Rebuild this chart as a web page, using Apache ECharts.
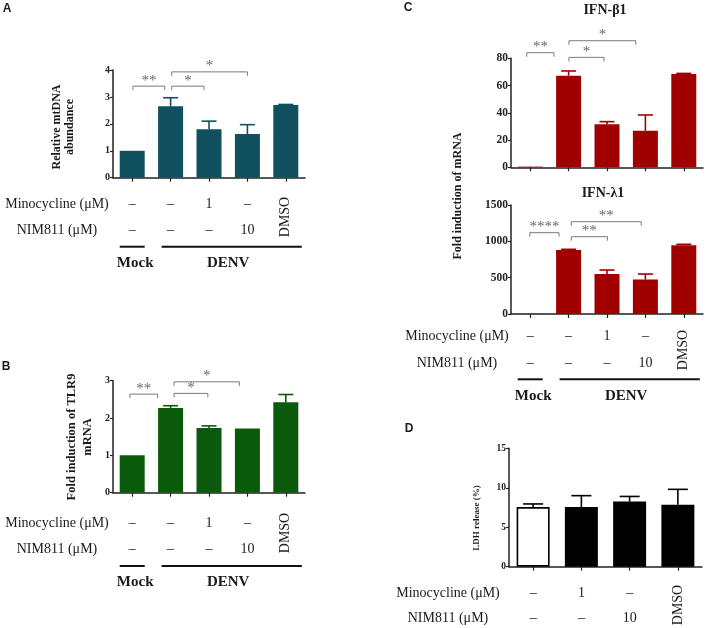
<!DOCTYPE html>
<html><head><meta charset="utf-8">
<script src="https://cdn.jsdelivr.net/npm/echarts@6/dist/echarts.min.js"></script>
<style>html,body{margin:0;padding:0;background:#fff}#c{width:709px;height:628px}</style>
</head><body><div id="c"></div>
<script>
// ---------- data ----------
const categories = ['Mock', 'DENV', 'DENV + Minocycline 1 μM', 'DENV + NIM811 10 μM', 'DENV + DMSO'];
const categoriesD = ['Control', 'Minocycline 1 μM', 'NIM811 10 μM', 'DMSO'];

const mtDNA      = [1, 2.65, 1.8, 1.62, 2.7];
const mtDNAUpper = [null, 2.97, 2.1, 1.97, 2.72];

const tlr9       = [1, 2.27, 1.73, 1.72, 2.42];
const tlr9Upper  = [null, 2.33, 1.79, null, 2.63];

const ifnb1      = [0.5, 67.2, 31.6, 26.8, 68.4];
const ifnb1Upper = [null, 70.7, 33.5, 38.4, 68.9];

const ifnl1      = [2, 881, 552, 475, 946];
const ifnl1Upper = [null, 890, 605, 550, 959];

const ldh        = [7.55, 7.55, 8.25, 7.85];
const ldhUpper   = [7.95, 9.0, 8.9, 9.8];

// significance brackets: [from (category units), to, y value, label]
const sigA  = [[0.02, 0.85, 3.4, '**'], [1.03, 1.87, 3.4, '*'], [1.03, 3.0, 3.93, '*']];
const sigB  = [[-0.06, 0.66, 2.64, '**'], [1.09, 1.97, 2.66, '*'], [1.09, 2.79, 2.97, '*']];
const sigC1 = [[-0.09, 0.62, 84.1, '**'], [1.01, 1.92, 80.7, '*'], [1.01, 2.75, 92.9, '*']];
const sigC2 = [[-0.01, 0.75, 1119, '****'], [1.07, 2.01, 1064, '**'], [1.07, 2.89, 1270, '**']];

// treatment rows
const minoRow  = ['–', '–', '1', '–'];
const nimRow   = ['–', '–', '–', '10'];
const minoRowD = ['–', '1', '–'];
const nimRowD  = ['–', '–', '10'];
const minoLabel = 'Minocycline (μM)';
const nimLabel = 'NIM811 (μM)';
const dmsoLabel = 'DMSO';

// ---------- style ----------
const SERIF = '"Liberation Serif", "Times New Roman", serif';
const SANS = '"Liberation Sans", Arial, sans-serif';
const cA = '#11505f', cB = '#0b5a0b', cC = '#a00000', cD = '#000000';

const chart = echarts.init(document.getElementById('c'), null, {renderer: 'canvas'});

const grids = [
  {left: 113, top: 70, width: 192, height: 107.7},
  {left: 113, top: 380.7, width: 192, height: 112},
  {left: 511, top: 58.3, width: 192, height: 109},
  {left: 511, top: 205, width: 192, height: 109},
  {left: 509, top: 448.3, width: 193, height: 118.4}
];

function xAx(k, data) {
  return {type: 'category', gridIndex: k, data: data,
    axisLine: {lineStyle: {color: '#222', width: 1.5}},
    axisTick: {show: true, alignWithLabel: true, length: 4, interval: 0, lineStyle: {color: '#222', width: 1.2}},
    axisLabel: {show: false}};
}
function yAx(k, max, interval, fs) {
  return {type: 'value', gridIndex: k, min: 0, max: max, interval: interval,
    axisLine: {show: true, lineStyle: {color: '#222', width: 1.5}},
    axisTick: {show: true, length: 3, lineStyle: {color: '#222', width: 1.2}},
    splitLine: {show: false},
    axisLabel: {fontFamily: SERIF, fontWeight: 'bold', fontSize: fs, color: '#222', margin: 3,
      formatter: v => String(v)}};
}
function barS(k, vals, color, w) {
  return {type: 'bar', xAxisIndex: k, yAxisIndex: k, data: vals, barWidth: w,
    itemStyle: {color: color}, z: 2};
}
function errS(k, vals, upper, color, capW) {
  return {type: 'custom', xAxisIndex: k, yAxisIndex: k, z: 3, clip: false,
    data: vals.map((m, i) => [i, m, upper[i]]).filter(d => d[2] != null),
    encode: {x: 0, y: [1, 2]},
    renderItem: function (params, api) {
      const i = api.value(0), m = api.value(1), u = api.value(2);
      const p1 = api.coord([i, m]), p2 = api.coord([i, u]);
      return {type: 'group', children: [
        {type: 'line', shape: {x1: p1[0], y1: p1[1], x2: p2[0], y2: p2[1]}, style: {stroke: color, lineWidth: 1.6}},
        {type: 'line', shape: {x1: p2[0] - capW / 2, y1: p2[1], x2: p2[0] + capW / 2, y2: p2[1]}, style: {stroke: color, lineWidth: 1.6}}
      ]};
    }};
}
function sigS(k, list) {
  return {type: 'custom', xAxisIndex: k, yAxisIndex: k, z: 4, clip: false, silent: true,
    data: list.map(d => [Math.max(0, Math.round(d[0])), d[2]]),
    encode: {x: 0, y: 1},
    renderItem: function (params, api) {
      const d = list[params.dataIndex];
      const p0 = api.coord([0, d[2]]);
      const band = api.size([1, 0])[0];
      const x1 = p0[0] + d[0] * band, x2 = p0[0] + d[1] * band, y = p0[1];
      return {type: 'group', children: [
        {type: 'polyline', shape: {points: [[x1, y + 4], [x1, y], [x2, y], [x2, y + 4]]},
          style: {stroke: '#7a7a7a', lineWidth: 1, fill: null}},
        {type: 'text', style: {text: d[3], x: (x1 + x2) / 2, y: y + 2,
          textAlign: 'center', textVerticalAlign: 'bottom', align: 'center', verticalAlign: 'bottom',
          fill: '#666666', font: '15px ' + SERIF}}
      ]};
    }};
}

const ldhData = ldh.map((v, i) => i === 0
  ? {value: v, itemStyle: {color: '#ffffff', borderColor: '#000', borderWidth: 1.6}}
  : {value: v});

const option = {
  animation: false,
  backgroundColor: '#ffffff',
  grid: grids,
  xAxis: [xAx(0, categories), xAx(1, categories), xAx(2, categories), xAx(3, categories), xAx(4, categoriesD)],
  yAxis: [yAx(0, 4, 1, 10), yAx(1, 3, 1, 10), yAx(2, 80, 20, 11.5), yAx(3, 1500, 500, 11.5), yAx(4, 15, 5, 9.5)],
  series: [
    barS(0, mtDNA, cA, 25), errS(0, mtDNA, mtDNAUpper, cA, 15), sigS(0, sigA),
    barS(1, tlr9, cB, 25), errS(1, tlr9, tlr9Upper, cB, 15), sigS(1, sigB),
    barS(2, ifnb1, cC, 25), errS(2, ifnb1, ifnb1Upper, cC, 15), sigS(2, sigC1),
    barS(3, ifnl1, cC, 25), errS(3, ifnl1, ifnl1Upper, cC, 15), sigS(3, sigC2),
    barS(4, ldhData, cD, 33), errS(4, ldh, ldhUpper, cD, 20)
  ]
};
chart.setOption(option);

// ---------- text annotations ----------
function txt(text, x, y, font, opts) {
  opts = opts || {};
  return {type: 'text', x: x, y: y, rotation: opts.rot || 0, silent: true,
    style: {text: text, font: font, fill: opts.fill || '#1a1a1a',
      textAlign: opts.align || 'center', textVerticalAlign: 'middle',
      align: opts.align || 'center', verticalAlign: 'middle', lineHeight: opts.lh}};
}
function hline(x1, x2, y) {
  return {type: 'line', silent: true, shape: {x1: x1, y1: y, x2: x2, y2: y}, style: {stroke: '#111', lineWidth: 2}};
}
const g = [];
const rowFont = '14px ' + SERIF;
const boldFont = 'bold 15px ' + SERIF;

function rows(axisIdx, nCat, labelX, minoY, nimY, dmsoY, mino, nim, lineY, groupY) {
  const cx = [];
  for (let i = 0; i < nCat; i++) cx.push(chart.convertToPixel({xAxisIndex: axisIdx}, i));
  g.push(txt(minoLabel, labelX, minoY, rowFont));
  g.push(txt(nimLabel, labelX, nimY, rowFont));
  mino.forEach((t, i) => g.push(txt(t, cx[i], minoY, rowFont)));
  nim.forEach((t, i) => g.push(txt(t, cx[i], nimY, rowFont)));
  g.push(txt(dmsoLabel, cx[nCat - 1], dmsoY, rowFont, {rot: Math.PI / 2}));
  if (lineY != null) {
    g.push(hline(cx[0] - 12.5, cx[0] + 12.5, lineY));
    g.push(hline(cx[1] - 9, cx[nCat - 1] + 16, lineY));
    g.push(txt('Mock', cx[0] + 3, groupY, boldFont));
    g.push(txt('DENV', (cx[1] + cx[nCat - 1]) / 2, groupY, boldFont));
  }
}
rows(0, 5, 57, 204, 230.7, 217, minoRow, nimRow, 246.7, 262.7);
rows(1, 5, 57, 523.3, 549.3, 533, minoRow, nimRow, 566, 581.7);
rows(3, 5, 457, 336.7, 363.3, 350, minoRow, nimRow, 379.3, 396);
rows(4, 4, 448, 593.3, 618.3, 605, minoRowD, nimRowD, null, null);

// axis titles
g.push(txt('Relative mtDNA\nabundance', 63.5, 127, 'bold 12px ' + SERIF, {rot: Math.PI / 2, lh: 13.5}));
g.push(txt('Fold induction of TLR9\nmRNA', 80, 437, 'bold 12.5px ' + SERIF, {rot: Math.PI / 2, lh: 16}));
g.push(txt('Fold induction of mRNA', 458, 196, 'bold 12px ' + SERIF, {rot: Math.PI / 2}));
g.push(txt('LDH release (%)', 477, 518, 'bold 9px ' + SERIF, {rot: Math.PI / 2}));

// panel titles and letters
g.push(txt('IFN-β1', 605, 10, 'bold 14px ' + SERIF));
g.push(txt('IFN-λ1', 603, 193, 'bold 14px ' + SERIF));
g.push(txt('A', 7, 9, 'bold 12px ' + SANS));
g.push(txt('B', 6, 367, 'bold 12px ' + SANS));
g.push(txt('C', 408, 8, 'bold 12px ' + SANS));
g.push(txt('D', 409, 429, 'bold 12px ' + SANS));

chart.setOption({graphic: g});
</script>
</body></html>
